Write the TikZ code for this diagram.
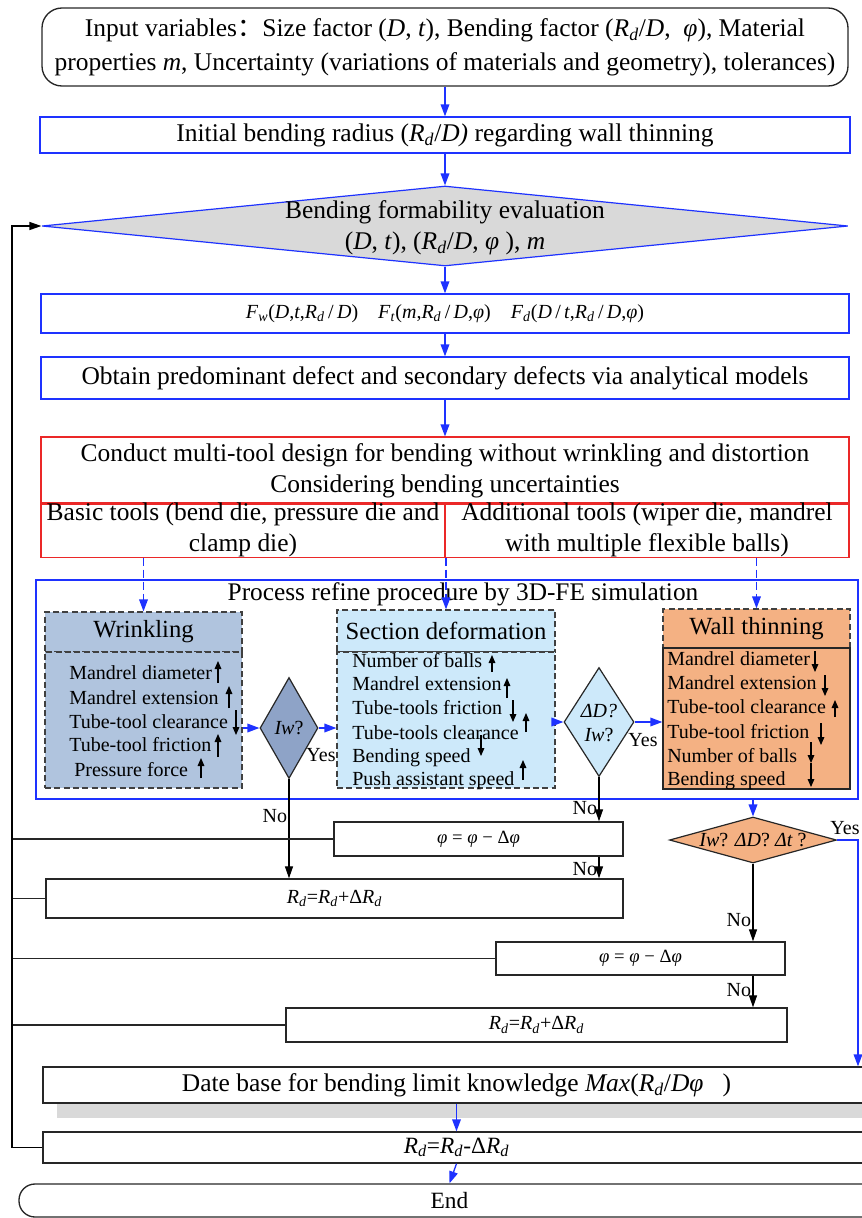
\documentclass[tikz,border=0pt]{standalone}
\usepackage{fontspec}
\setmainfont{Liberation Serif}
\newfontfamily\cjk{Noto Sans CJK SC}
\usetikzlibrary{shapes.geometric,arrows.meta}
\definecolor{flowblue}{RGB}{30,50,255}
\definecolor{flowred}{RGB}{235,40,40}
\definecolor{evalgray}{RGB}{217,217,217}
\definecolor{wrinkfill}{RGB}{176,196,222}
\definecolor{wrinkdiam}{RGB}{142,163,199}
\definecolor{secfill}{RGB}{205,233,250}
\definecolor{wallfill}{RGB}{244,177,131}
\newcommand{\Rd}{\textit{R}\textsubscript{\textit{d}}}

\begin{document}
\begin{tikzpicture}[x=0.75pt,y=0.75pt,yscale=-1,xscale=1,
  bigtext/.style={font=\fontsize{19.1}{23.25}\selectfont},
  midtext/.style={font=\fontsize{17.5}{21}\selectfont},
  smalltext/.style={font=\fontsize{15}{18}\selectfont},
  headtext/.style={font=\fontsize{18.5}{22}\selectfont},
  bluebox/.style={draw=flowblue, line width=1pt, inner sep=0pt, bigtext},
  redbox/.style={draw=flowred, line width=0.8pt, inner sep=0pt, bigtext, align=center},
  blackbox/.style={draw=black!85, line width=1pt, inner sep=0pt},
  dashbox/.style={draw=black!75, line width=0.9pt, dash pattern=on 4.5pt off 2.5pt, inner sep=0pt, headtext},
  flowdiam/.style={diamond, draw=black!85, line width=0.9pt, inner sep=0pt},
  bluearrow/.style={draw=flowblue, line width=1pt, -{Triangle[length=9pt,width=6.5pt]}},
  dashlink/.style={bluearrow, dash pattern=on 6pt off 3pt},
  blackarrow/.style={draw=black, line width=0.9pt, -{Triangle[length=9pt,width=6pt]}},
  plainline/.style={draw=black!85, line width=0.9pt},
  tinyarrow/.style={draw=black, line width=0.8pt, -{Triangle[length=6pt,width=5pt]}},
  lbl/.style={smalltext, inner sep=0pt}]
\useasboundingbox (0,0) rectangle (861,1218);

%Shape: Rounded Rect
\node[blackbox, rounded corners=15pt, minimum width=604.5pt, minimum height=58.5pt, align=center, font=\fontsize{19.1}{25.5}\selectfont] (input) at (445,47) {Input variables{\cjk ：}Size factor (\textit{D}, \textit{t}), Bending factor (\Rd/\textit{D},\ \ \textit{φ}), Material\\properties \textit{m}, Uncertainty (variations of materials and geometry), tolerances)};

%Shape: Rectangle
\node[bluebox, minimum width=607.5pt, minimum height=27pt] (init) at (445,135) {Initial bending radius (\Rd/\textit{D)} regarding wall thinning};

%Shape: Diamond
\node[flowdiam, draw=flowblue, fill=evalgray, minimum width=604.5pt, minimum height=60pt] (eval) at (445,226) {};
% Text Node
\node[bigtext, align=center, inner sep=0pt] (evaltext) at (445,228) {Bending formability evaluation\\(\textit{D}, \textit{t}), (\Rd/\textit{D}, \textit{φ} ), \textit{m}};

%Shape: Rectangle
\node[bluebox, minimum width=606pt, minimum height=29.25pt, font=\fontsize{15}{18}\selectfont] (fbox) at (445,313.5) {\textit{F}\textsubscript{\textit{w}}(\textit{D},\textit{t},\Rd\,/\,\textit{D})\quad \textit{F}\textsubscript{\textit{t}}(\textit{m},\Rd\,/\,\textit{D},\textit{φ})\quad \textit{F}\textsubscript{\textit{d}}(\textit{D}\,/\,\textit{t},\Rd\,/\,\textit{D},\textit{φ})};
\node[bluebox, minimum width=606pt, minimum height=31.5pt] (obtain) at (445,378) {Obtain predominant defect and secondary defects via analytical models};

%Shape: Rectangle
\node[redbox, minimum width=606pt, minimum height=50.25pt] (design) at (445,470.5) {Conduct multi-tool design for bending without wrinkling and distortion\\Considering bending uncertainties};
\node[redbox, minimum width=303pt, minimum height=39pt] (basic) at (243,530) {Basic tools (bend die, pressure die and\\clamp die)};
\node[redbox, minimum width=303pt, minimum height=39pt] (addl) at (647,530) {Additional tools (wiper die, mandrel\\with multiple flexible balls)};

%Shape: Rectangle
\node[bluebox, minimum width=616.5pt, minimum height=164.25pt] (refine) at (447,689.5) {};
% Text Node
\node[font=\fontsize{19}{22}\selectfont, inner sep=0pt] (refinetitle) at (463,594) {Process refine procedure by 3D-FE simulation};

%Shape: Rectangle
\node[dashbox, fill=wrinkfill, minimum width=147.75pt, minimum height=30pt] (wrinkhead) at (143.5,632) {Wrinkling};
\node[dashbox, fill=wrinkfill, minimum width=147.75pt, minimum height=102pt] (wrinkbody) at (143.5,720) {};
\node[dashbox, fill=secfill, minimum width=163.5pt, minimum height=31.5pt] (sechead) at (446,631) {Section deformation};
\node[dashbox, fill=secfill, minimum width=163.5pt, minimum height=102pt] (secbody) at (446,720) {};
\node[dashbox, fill=wallfill, minimum width=140.25pt, minimum height=29.25pt] (wallhead) at (756.5,628.5) {Wall thinning};
\node[blackbox, fill=wallfill, minimum width=140.25pt, minimum height=105.75pt] (wallbody) at (756.5,718.5) {};

% Text Node
\foreach \x/\y/\txt [count=\i] in {69/679/Mandrel diameter, 69/704/Mandrel extension, 69/728/Tube-tool clearance, 69/751/Tube-tool friction, 74/776/Pressure force}
  \node[smalltext, inner sep=0pt, anchor=base west] (wr\i) at (\x,\y) {\txt};
\foreach \x/\y/\txt [count=\i] in {352/667/Number of balls, 352/690/Mandrel extension, 352/714/Tube-tools friction, 352/739/Tube-tools clearance, 352/762/Bending speed, 352/785/Push assistant speed}
  \node[smalltext, inner sep=0pt, anchor=base west] (sc\i) at (\x,\y) {\txt};
\foreach \x/\y/\txt [count=\i] in {667/665/Mandrel diameter, 667/689/Mandrel extension, 667/713/Tube-tool clearance, 667/738/Tube-tool friction, 667/762/Number of balls, 667/785/Bending speed}
  \node[smalltext, inner sep=0pt, anchor=base west] (wt\i) at (\x,\y) {\txt};

%Straight Lines
\foreach \ax/\ya/\yb in {218/683/661, 229/708/686, 236/710/735, 218/757/734, 201/778/758,
  492/672/655, 507/698/678, 513/700/722, 526/732/713, 481/735/756, 523/780/760,
  815/651/672, 825/675/696, 835/717/700, 821/723/745, 811/742/763, 811/763/787}
  \draw[tinyarrow] (\ax,\ya) -- (\ax,\yb);

%Shape: Diamond
\node[flowdiam, fill=wrinkdiam, minimum width=43.5pt, minimum height=75.75pt] (iw) at (289,728) {};
\node[smalltext, inner sep=0pt] (iwtext) at (289,728) {\textit{Iw}?};
\node[flowdiam, fill=secfill, minimum width=52.5pt, minimum height=81.75pt] (secdiam) at (599,722) {};
\node[smalltext, align=center, inner sep=0pt] (sectext) at (599,723) {\textit{ΔD?}\\\textit{Iw}?};
\node[flowdiam, fill=wallfill, minimum width=125.25pt, minimum height=34.5pt] (walldiam) at (753,840) {};
\node[smalltext, inner sep=0pt] (walltext) at (753,840) {\textit{Iw}? \textit{ΔD}? \textit{Δt} ?};

%Shape: Rectangle
\node[blackbox, font=\fontsize{14}{17}\selectfont, minimum width=216.75pt, minimum height=25.5pt] (phi1) at (478.5,839) {\textit{φ} = \textit{φ} − Δ\textit{φ}};
\node[blackbox, smalltext, minimum width=432.75pt, minimum height=29.25pt] (rd1) at (334.5,898.5) {\Rd=\Rd+Δ\Rd};
\node[blackbox, font=\fontsize{14}{17}\selectfont, minimum width=216.75pt, minimum height=24.75pt] (phi2) at (640.5,958.5) {\textit{φ} = \textit{φ} − Δ\textit{φ}};
\node[blackbox, smalltext, minimum width=375.75pt, minimum height=25.5pt] (rd2) at (536.5,1025) {\Rd=\Rd+Δ\Rd};
\fill[evalgray] (57,1103) rectangle (880,1118);
\node[blackbox, bigtext, minimum width=620.25pt, minimum height=27pt] (database) at (456.5,1085) {Date base for bending limit knowledge \textit{Max}(\Rd/\textit{Dφ}\ \ \ )};
\node[blackbox, midtext, minimum width=620.25pt, minimum height=23.25pt] (rd3) at (456.5,1147.5) {\Rd=\Rd-Δ\Rd};
\node[blackbox, midtext, rounded corners=12pt, minimum width=645.75pt, minimum height=24.75pt] (end) at (449.5,1200.5) {End};

\coordinate (rail) at (12,226);
\coordinate (yesrail) at (858,1067);

%Straight Lines
\draw[bluearrow] (input.south) -- (init.north);
\draw[bluearrow] (init.south) -- (eval.north);
\draw[bluearrow] (eval.south) -- (fbox.north);
\draw[bluearrow] (fbox.south) -- (obtain.north);
\draw[bluearrow] (obtain.south) -- (design.north);
\draw[dashlink] (wrinkhead.north |- basic.south) -- (wrinkhead.north);
\draw[dashlink] (sechead.north |- basic.south) -- (sechead.north);
\draw[dashlink] (wallhead.north |- addl.south) -- (wallhead.north);
\draw[bluearrow] (wrinkbody.east |- iw.west) -- (iw.west);
\draw[bluearrow] (iw.east) -- (secbody.west |- iw.east);
\draw[bluearrow] (secbody.east |- secdiam.west) -- (secdiam.west);
\draw[bluearrow] (secdiam.east) -- (wallbody.west |- secdiam.east);
\draw[bluearrow] (walldiam.north |- refine.south) -- (walldiam.north);
\draw[bluearrow] (walldiam.east) -| (database.north -| yesrail);
\draw[bluearrow] (database.south) -- (rd3.north);
\draw[bluearrow] (rd3.south) -- (end.north);

\draw[blackarrow] (iw.south) -- (iw.south |- rd1.north) node[lbl, pos=0.37, left=1pt] (iwno) {No};
\draw[blackarrow] (secdiam.south) -- (secdiam.south |- phi1.north) node[lbl, pos=0.7, left=1pt] (secno) {No};
\draw[blackarrow] (phi1.south -| secdiam.south) -- (secdiam.south |- rd1.north) node[lbl, pos=0.55, left=1pt] (phino) {No};
\draw[blackarrow] (walldiam.south) -- (walldiam.south |- phi2.north) node[lbl, pos=0.72, left=1pt] (wallno) {No};
\draw[blackarrow] (phi2.south -| walldiam.south) -- (walldiam.south |- rd2.north) node[lbl, pos=0.45, left=1pt] (phitwono) {No};

\foreach \nd in {phi1,rd1,phi2,rd2}
  \draw[plainline] (\nd.west) -- (\nd.west -| rail);
\draw[blackarrow] (rd3.west) -| (rail) -- (eval.west);

% Text Node
\node[lbl] (iwyes) at (321,755) {Yes};
\node[lbl] (secyes) at (643,740) {Yes};
\node[lbl] (wallyes) at (845,828) {Yes};

\end{tikzpicture}
\end{document}
